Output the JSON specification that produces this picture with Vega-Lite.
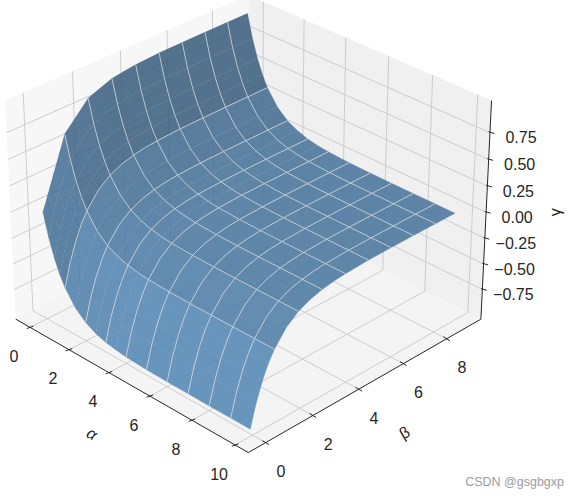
{"$schema":"https://vega.github.io/schema/vega-lite/v6.json","width":579,"height":498,"padding":0,"autosize":"none","background":"white","config":{"view":{"stroke":null},"text":{"font":"Liberation Sans"}},
"datasets":{
"panes":[
{"pane":"left","seq":0,"alpha":-0.75,"beta":-0.72,"gamma":-1.045},{"pane":"left","seq":1,"alpha":-0.75,"beta":9.62,"gamma":-1.045},{"pane":"left","seq":2,"alpha":-0.75,"beta":9.62,"gamma":1.045},{"pane":"left","seq":3,"alpha":-0.75,"beta":-0.72,"gamma":1.045},
{"pane":"right","seq":0,"alpha":-0.75,"beta":9.62,"gamma":-1.045},{"pane":"right","seq":1,"alpha":10.6,"beta":9.62,"gamma":-1.045},{"pane":"right","seq":2,"alpha":10.6,"beta":9.62,"gamma":1.045},{"pane":"right","seq":3,"alpha":-0.75,"beta":9.62,"gamma":1.045},
{"pane":"floor","seq":0,"alpha":-0.75,"beta":-0.72,"gamma":-1.045},{"pane":"floor","seq":1,"alpha":10.6,"beta":-0.72,"gamma":-1.045},{"pane":"floor","seq":2,"alpha":10.6,"beta":9.62,"gamma":-1.045},{"pane":"floor","seq":3,"alpha":-0.75,"beta":9.62,"gamma":-1.045}],
"spines":[{"seq":0,"alpha":-0.75,"beta":-0.72,"gamma":-1.045},{"seq":1,"alpha":10.6,"beta":-0.72,"gamma":-1.045},{"seq":2,"alpha":10.6,"beta":9.62,"gamma":-1.045},{"seq":3,"alpha":10.6,"beta":9.62,"gamma":1.045}],
"ticks":[
{"axis":"alpha","value":0,"label":"0"},{"axis":"alpha","value":2,"label":"2"},{"axis":"alpha","value":4,"label":"4"},{"axis":"alpha","value":6,"label":"6"},{"axis":"alpha","value":8,"label":"8"},{"axis":"alpha","value":10,"label":"10"},
{"axis":"beta","value":0,"label":"0"},{"axis":"beta","value":2,"label":"2"},{"axis":"beta","value":4,"label":"4"},{"axis":"beta","value":6,"label":"6"},{"axis":"beta","value":8,"label":"8"},
{"axis":"gamma","value":-0.75,"label":"−0.75"},{"axis":"gamma","value":-0.5,"label":"−0.50"},{"axis":"gamma","value":-0.25,"label":"−0.25"},{"axis":"gamma","value":0,"label":"0.00"},{"axis":"gamma","value":0.25,"label":"0.25"},{"axis":"gamma","value":0.5,"label":"0.50"},{"axis":"gamma","value":0.75,"label":"0.75"}],
"titles":[{"axis":"beta","value":4,"label":"β"},{"axis":"gamma","value":0,"label":"γ"}],
"nodes":[
{"alpha":0,"beta":8.9,"gamma":0.9999},{"alpha":0,"beta":8,"gamma":0.9997},{"alpha":0,"beta":7,"gamma":0.9991},{"alpha":0,"beta":6,"gamma":0.9975},{"alpha":0,"beta":5,"gamma":0.9933},{"alpha":0,"beta":4,"gamma":0.9817},{"alpha":0,"beta":3.5,"gamma":0.966},{"alpha":0,"beta":3,"gamma":0.9502},{"alpha":0,"beta":2.5,"gamma":0.9075},{"alpha":0,"beta":2,"gamma":0.8647},{"alpha":0,"beta":1.5,"gamma":0.7484},{"alpha":0,"beta":1,"gamma":0.6321},{"alpha":0,"beta":0.75,"gamma":0.474},{"alpha":0,"beta":0.5,"gamma":0.316},{"alpha":0,"beta":0.25,"gamma":0.158},{"alpha":0,"beta":0,"gamma":0},
{"alpha":0.25,"beta":8.9,"gamma":0.7787},{"alpha":0.25,"beta":8,"gamma":0.7785},{"alpha":0.25,"beta":7,"gamma":0.7779},{"alpha":0.25,"beta":6,"gamma":0.7763},{"alpha":0.25,"beta":5,"gamma":0.7721},{"alpha":0.25,"beta":4,"gamma":0.7605},{"alpha":0.25,"beta":3.5,"gamma":0.7486},{"alpha":0.25,"beta":3,"gamma":0.729},{"alpha":0.25,"beta":2.5,"gamma":0.6967},{"alpha":0.25,"beta":2,"gamma":0.6435},{"alpha":0.25,"beta":1.5,"gamma":0.5557},{"alpha":0.25,"beta":1,"gamma":0.4109},{"alpha":0.25,"beta":0.75,"gamma":0.3064},{"alpha":0.25,"beta":0.5,"gamma":0.1723},{"alpha":0.25,"beta":0.25,"gamma":0},{"alpha":0.25,"beta":0,"gamma":-0.2212},
{"alpha":0.5,"beta":8.9,"gamma":0.6064},{"alpha":0.5,"beta":8,"gamma":0.6062},{"alpha":0.5,"beta":7,"gamma":0.6056},{"alpha":0.5,"beta":6,"gamma":0.604},{"alpha":0.5,"beta":5,"gamma":0.5998},{"alpha":0.5,"beta":4,"gamma":0.5882},{"alpha":0.5,"beta":3.5,"gamma":0.5763},{"alpha":0.5,"beta":3,"gamma":0.5567},{"alpha":0.5,"beta":2.5,"gamma":0.5244},{"alpha":0.5,"beta":2,"gamma":0.4712},{"alpha":0.5,"beta":1.5,"gamma":0.3834},{"alpha":0.5,"beta":1,"gamma":0.2386},{"alpha":0.5,"beta":0.75,"gamma":0.1341},{"alpha":0.5,"beta":0.5,"gamma":0},{"alpha":0.5,"beta":0.25,"gamma":-0.1723},{"alpha":0.5,"beta":0,"gamma":-0.3935},
{"alpha":0.75,"beta":8.9,"gamma":0.4723},{"alpha":0.75,"beta":8,"gamma":0.4721},{"alpha":0.75,"beta":7,"gamma":0.4715},{"alpha":0.75,"beta":6,"gamma":0.4699},{"alpha":0.75,"beta":5,"gamma":0.4657},{"alpha":0.75,"beta":4,"gamma":0.4541},{"alpha":0.75,"beta":3.5,"gamma":0.4422},{"alpha":0.75,"beta":3,"gamma":0.4226},{"alpha":0.75,"beta":2.5,"gamma":0.3903},{"alpha":0.75,"beta":2,"gamma":0.3371},{"alpha":0.75,"beta":1.5,"gamma":0.2493},{"alpha":0.75,"beta":1,"gamma":0.1045},{"alpha":0.75,"beta":0.75,"gamma":0},{"alpha":0.75,"beta":0.5,"gamma":-0.1341},{"alpha":0.75,"beta":0.25,"gamma":-0.3064},{"alpha":0.75,"beta":0,"gamma":-0.5276},
{"alpha":1,"beta":8.9,"gamma":0.3678},{"alpha":1,"beta":8,"gamma":0.3676},{"alpha":1,"beta":7,"gamma":0.367},{"alpha":1,"beta":6,"gamma":0.3654},{"alpha":1,"beta":5,"gamma":0.3612},{"alpha":1,"beta":4,"gamma":0.3496},{"alpha":1,"beta":3.5,"gamma":0.3377},{"alpha":1,"beta":3,"gamma":0.3181},{"alpha":1,"beta":2.5,"gamma":0.2858},{"alpha":1,"beta":2,"gamma":0.2326},{"alpha":1,"beta":1.5,"gamma":0.1448},{"alpha":1,"beta":1,"gamma":0},{"alpha":1,"beta":0.75,"gamma":-0.1045},{"alpha":1,"beta":0.5,"gamma":-0.2386},{"alpha":1,"beta":0.25,"gamma":-0.4109},{"alpha":1,"beta":0,"gamma":-0.6321},
{"alpha":1.5,"beta":8.9,"gamma":0.223},{"alpha":1.5,"beta":8,"gamma":0.2228},{"alpha":1.5,"beta":7,"gamma":0.2222},{"alpha":1.5,"beta":6,"gamma":0.2206},{"alpha":1.5,"beta":5,"gamma":0.2164},{"alpha":1.5,"beta":4,"gamma":0.2048},{"alpha":1.5,"beta":3.5,"gamma":0.1929},{"alpha":1.5,"beta":3,"gamma":0.1733},{"alpha":1.5,"beta":2.5,"gamma":0.141},{"alpha":1.5,"beta":2,"gamma":0.0878},{"alpha":1.5,"beta":1.5,"gamma":0},{"alpha":1.5,"beta":1,"gamma":-0.1448},{"alpha":1.5,"beta":0.75,"gamma":-0.2493},{"alpha":1.5,"beta":0.5,"gamma":-0.3834},{"alpha":1.5,"beta":0.25,"gamma":-0.5557},{"alpha":1.5,"beta":0,"gamma":-0.7769},
{"alpha":2,"beta":8.9,"gamma":0.1352},{"alpha":2,"beta":8,"gamma":0.135},{"alpha":2,"beta":7,"gamma":0.1344},{"alpha":2,"beta":6,"gamma":0.1328},{"alpha":2,"beta":5,"gamma":0.1286},{"alpha":2,"beta":4,"gamma":0.117},{"alpha":2,"beta":3.5,"gamma":0.1051},{"alpha":2,"beta":3,"gamma":0.0855},{"alpha":2,"beta":2.5,"gamma":0.0532},{"alpha":2,"beta":2,"gamma":0},{"alpha":2,"beta":1.5,"gamma":-0.0878},{"alpha":2,"beta":1,"gamma":-0.2326},{"alpha":2,"beta":0.75,"gamma":-0.3371},{"alpha":2,"beta":0.5,"gamma":-0.4712},{"alpha":2,"beta":0.25,"gamma":-0.6435},{"alpha":2,"beta":0,"gamma":-0.8647},
{"alpha":2.5,"beta":8.9,"gamma":0.082},{"alpha":2.5,"beta":8,"gamma":0.0818},{"alpha":2.5,"beta":7,"gamma":0.0812},{"alpha":2.5,"beta":6,"gamma":0.0796},{"alpha":2.5,"beta":5,"gamma":0.0754},{"alpha":2.5,"beta":4,"gamma":0.0638},{"alpha":2.5,"beta":3.5,"gamma":0.0519},{"alpha":2.5,"beta":3,"gamma":0.0323},{"alpha":2.5,"beta":2.5,"gamma":0},{"alpha":2.5,"beta":2,"gamma":-0.0532},{"alpha":2.5,"beta":1.5,"gamma":-0.141},{"alpha":2.5,"beta":1,"gamma":-0.2858},{"alpha":2.5,"beta":0.75,"gamma":-0.3903},{"alpha":2.5,"beta":0.5,"gamma":-0.5244},{"alpha":2.5,"beta":0.25,"gamma":-0.6967},{"alpha":2.5,"beta":0,"gamma":-0.9179},
{"alpha":3,"beta":8.9,"gamma":0.0497},{"alpha":3,"beta":8,"gamma":0.0495},{"alpha":3,"beta":7,"gamma":0.0489},{"alpha":3,"beta":6,"gamma":0.0473},{"alpha":3,"beta":5,"gamma":0.0431},{"alpha":3,"beta":4,"gamma":0.0315},{"alpha":3,"beta":3.5,"gamma":0.0196},{"alpha":3,"beta":3,"gamma":0},{"alpha":3,"beta":2.5,"gamma":-0.0323},{"alpha":3,"beta":2,"gamma":-0.0855},{"alpha":3,"beta":1.5,"gamma":-0.1733},{"alpha":3,"beta":1,"gamma":-0.3181},{"alpha":3,"beta":0.75,"gamma":-0.4226},{"alpha":3,"beta":0.5,"gamma":-0.5567},{"alpha":3,"beta":0.25,"gamma":-0.729},{"alpha":3,"beta":0,"gamma":-0.9502},
{"alpha":3.5,"beta":8.9,"gamma":0.0301},{"alpha":3.5,"beta":8,"gamma":0.0299},{"alpha":3.5,"beta":7,"gamma":0.0293},{"alpha":3.5,"beta":6,"gamma":0.0277},{"alpha":3.5,"beta":5,"gamma":0.0235},{"alpha":3.5,"beta":4,"gamma":0.0119},{"alpha":3.5,"beta":3.5,"gamma":0},{"alpha":3.5,"beta":3,"gamma":-0.0196},{"alpha":3.5,"beta":2.5,"gamma":-0.0519},{"alpha":3.5,"beta":2,"gamma":-0.1051},{"alpha":3.5,"beta":1.5,"gamma":-0.1929},{"alpha":3.5,"beta":1,"gamma":-0.3377},{"alpha":3.5,"beta":0.75,"gamma":-0.4422},{"alpha":3.5,"beta":0.5,"gamma":-0.5763},{"alpha":3.5,"beta":0.25,"gamma":-0.7486},{"alpha":3.5,"beta":0,"gamma":-0.9698},
{"alpha":4,"beta":8.9,"gamma":0.0182},{"alpha":4,"beta":8,"gamma":0.018},{"alpha":4,"beta":7,"gamma":0.0174},{"alpha":4,"beta":6,"gamma":0.0158},{"alpha":4,"beta":5,"gamma":0.0116},{"alpha":4,"beta":4,"gamma":0},{"alpha":4,"beta":3.5,"gamma":-0.0119},{"alpha":4,"beta":3,"gamma":-0.0315},{"alpha":4,"beta":2.5,"gamma":-0.0638},{"alpha":4,"beta":2,"gamma":-0.117},{"alpha":4,"beta":1.5,"gamma":-0.2048},{"alpha":4,"beta":1,"gamma":-0.3496},{"alpha":4,"beta":0.75,"gamma":-0.4541},{"alpha":4,"beta":0.5,"gamma":-0.5882},{"alpha":4,"beta":0.25,"gamma":-0.7605},{"alpha":4,"beta":0,"gamma":-0.9817},
{"alpha":5,"beta":8.9,"gamma":0.0066},{"alpha":5,"beta":8,"gamma":0.0064},{"alpha":5,"beta":7,"gamma":0.0058},{"alpha":5,"beta":6,"gamma":0.0042},{"alpha":5,"beta":5,"gamma":0},{"alpha":5,"beta":4,"gamma":-0.0116},{"alpha":5,"beta":3.5,"gamma":-0.0235},{"alpha":5,"beta":3,"gamma":-0.0431},{"alpha":5,"beta":2.5,"gamma":-0.0754},{"alpha":5,"beta":2,"gamma":-0.1286},{"alpha":5,"beta":1.5,"gamma":-0.2164},{"alpha":5,"beta":1,"gamma":-0.3612},{"alpha":5,"beta":0.75,"gamma":-0.4657},{"alpha":5,"beta":0.5,"gamma":-0.5998},{"alpha":5,"beta":0.25,"gamma":-0.7721},{"alpha":5,"beta":0,"gamma":-0.9933},
{"alpha":6,"beta":8.9,"gamma":0.0024},{"alpha":6,"beta":8,"gamma":0.0022},{"alpha":6,"beta":7,"gamma":0.0016},{"alpha":6,"beta":6,"gamma":0},{"alpha":6,"beta":5,"gamma":-0.0042},{"alpha":6,"beta":4,"gamma":-0.0158},{"alpha":6,"beta":3.5,"gamma":-0.0277},{"alpha":6,"beta":3,"gamma":-0.0473},{"alpha":6,"beta":2.5,"gamma":-0.0796},{"alpha":6,"beta":2,"gamma":-0.1328},{"alpha":6,"beta":1.5,"gamma":-0.2206},{"alpha":6,"beta":1,"gamma":-0.3654},{"alpha":6,"beta":0.75,"gamma":-0.4699},{"alpha":6,"beta":0.5,"gamma":-0.604},{"alpha":6,"beta":0.25,"gamma":-0.7763},{"alpha":6,"beta":0,"gamma":-0.9975},
{"alpha":7,"beta":8.9,"gamma":0.0008},{"alpha":7,"beta":8,"gamma":0.0006},{"alpha":7,"beta":7,"gamma":0},{"alpha":7,"beta":6,"gamma":-0.0016},{"alpha":7,"beta":5,"gamma":-0.0058},{"alpha":7,"beta":4,"gamma":-0.0174},{"alpha":7,"beta":3.5,"gamma":-0.0293},{"alpha":7,"beta":3,"gamma":-0.0489},{"alpha":7,"beta":2.5,"gamma":-0.0812},{"alpha":7,"beta":2,"gamma":-0.1344},{"alpha":7,"beta":1.5,"gamma":-0.2222},{"alpha":7,"beta":1,"gamma":-0.367},{"alpha":7,"beta":0.75,"gamma":-0.4715},{"alpha":7,"beta":0.5,"gamma":-0.6056},{"alpha":7,"beta":0.25,"gamma":-0.7779},{"alpha":7,"beta":0,"gamma":-0.9991},
{"alpha":8,"beta":8.9,"gamma":0.0002},{"alpha":8,"beta":8,"gamma":0},{"alpha":8,"beta":7,"gamma":-0.0006},{"alpha":8,"beta":6,"gamma":-0.0022},{"alpha":8,"beta":5,"gamma":-0.0064},{"alpha":8,"beta":4,"gamma":-0.018},{"alpha":8,"beta":3.5,"gamma":-0.0299},{"alpha":8,"beta":3,"gamma":-0.0495},{"alpha":8,"beta":2.5,"gamma":-0.0818},{"alpha":8,"beta":2,"gamma":-0.135},{"alpha":8,"beta":1.5,"gamma":-0.2228},{"alpha":8,"beta":1,"gamma":-0.3676},{"alpha":8,"beta":0.75,"gamma":-0.4721},{"alpha":8,"beta":0.5,"gamma":-0.6062},{"alpha":8,"beta":0.25,"gamma":-0.7785},{"alpha":8,"beta":0,"gamma":-0.9997},
{"alpha":9,"beta":8.9,"gamma":0},{"alpha":9,"beta":8,"gamma":-0.0002},{"alpha":9,"beta":7,"gamma":-0.0008},{"alpha":9,"beta":6,"gamma":-0.0024},{"alpha":9,"beta":5,"gamma":-0.0066},{"alpha":9,"beta":4,"gamma":-0.0182},{"alpha":9,"beta":3.5,"gamma":-0.0301},{"alpha":9,"beta":3,"gamma":-0.0497},{"alpha":9,"beta":2.5,"gamma":-0.082},{"alpha":9,"beta":2,"gamma":-0.1352},{"alpha":9,"beta":1.5,"gamma":-0.223},{"alpha":9,"beta":1,"gamma":-0.3678},{"alpha":9,"beta":0.75,"gamma":-0.4723},{"alpha":9,"beta":0.5,"gamma":-0.6064},{"alpha":9,"beta":0.25,"gamma":-0.7787},{"alpha":9,"beta":0,"gamma":-0.9999},
{"alpha":9.9,"beta":8.9,"gamma":0},{"alpha":9.9,"beta":8,"gamma":-0.0002},{"alpha":9.9,"beta":7,"gamma":-0.0008},{"alpha":9.9,"beta":6,"gamma":-0.0024},{"alpha":9.9,"beta":5,"gamma":-0.0066},{"alpha":9.9,"beta":4,"gamma":-0.0182},{"alpha":9.9,"beta":3.5,"gamma":-0.0301},{"alpha":9.9,"beta":3,"gamma":-0.0497},{"alpha":9.9,"beta":2.5,"gamma":-0.082},{"alpha":9.9,"beta":2,"gamma":-0.1352},{"alpha":9.9,"beta":1.5,"gamma":-0.223},{"alpha":9.9,"beta":1,"gamma":-0.3678},{"alpha":9.9,"beta":0.75,"gamma":-0.4723},{"alpha":9.9,"beta":0.5,"gamma":-0.6064},{"alpha":9.9,"beta":0.25,"gamma":-0.7787},{"alpha":9.9,"beta":0,"gamma":-0.9999}]
},
"encoding":{"x":{"field":"sx","type":"quantitative","scale":{"domain":[0,579]},"axis":null},"y":{"field":"sy","type":"quantitative","scale":{"domain":[498,0]},"axis":null}},
"layer":[
{"data":{"name":"panes"},"transform":[{"calculate":"(datum.alpha+0.75)/11.35","as":"a"},{"calculate":"(datum.beta+0.72)/10.34","as":"b"},{"calculate":"datum.gamma*0.4272","as":"z"},{"calculate":"10-0.729*(datum.a-datum.b)-0.5*datum.z","as":"d"},{"calculate":"248.3+2378*(datum.a+datum.b-1)/datum.d","as":"sx"},{"calculate":"212.3+2825*(0.4209*(datum.a-datum.b)-0.866*datum.z)/datum.d","as":"sy"}],
"mark":{"type":"line","stroke":"transparent","clip":false},
"encoding":{"detail":{"field":"pane"},"order":{"field":"seq","type":"quantitative"},"fill":{"field":"pane","type":"nominal","scale":{"domain":["left","right","floor"],"range":["#f7f7f7","#f0f0f0","#f4f4f4"]},"legend":null}}},
{"data":{"name":"ticks"},"transform":[{"calculate":"[0,1,2]","as":"seq"},{"flatten":["seq"]},
{"calculate":"datum.axis=='alpha'?datum.value:(datum.seq<2?-0.75:10.6)","as":"alpha"},
{"calculate":"datum.axis=='beta'?datum.value:(datum.seq==0?-0.72:9.62)","as":"beta"},
{"calculate":"datum.axis=='gamma'?datum.value:(datum.axis=='alpha'?(datum.seq<2?-1.045:1.045):(datum.seq==0?1.045:-1.045))","as":"gamma"},
{"calculate":"datum.axis+datum.value","as":"gridline"},
{"calculate":"(datum.alpha+0.75)/11.35","as":"a"},{"calculate":"(datum.beta+0.72)/10.34","as":"b"},{"calculate":"datum.gamma*0.4272","as":"z"},{"calculate":"10-0.729*(datum.a-datum.b)-0.5*datum.z","as":"d"},{"calculate":"248.3+2378*(datum.a+datum.b-1)/datum.d","as":"sx"},{"calculate":"212.3+2825*(0.4209*(datum.a-datum.b)-0.866*datum.z)/datum.d","as":"sy"}],
"mark":{"type":"line","stroke":"#cdcdcd","strokeWidth":1,"clip":false},
"encoding":{"detail":{"field":"gridline"},"order":{"field":"seq","type":"quantitative"}}},
{"data":{"name":"nodes"},"transform":[{"calculate":"[0,1,2,3]","as":"corner"},{"flatten":["corner"]},
{"calculate":"indexof([0,0.25,0.5,0.75,1,1.5,2,2.5,3,3.5,4,5,6,7,8,9,9.9],datum.alpha)-((datum.corner==1||datum.corner==2)?1:0)","as":"qi"},
{"calculate":"indexof([0,0.25,0.5,0.75,1,1.5,2,2.5,3,3.5,4,5,6,7,8,8.9],datum.beta)-(datum.corner>=2?1:0)","as":"qj"},
{"filter":"datum.qi>=0&&datum.qi<16&&datum.qj>=0&&datum.qj<15"},
{"calculate":"datum.qi*100+datum.qj","as":"quad"},
{"joinaggregate":[{"op":"min","field":"alpha","as":"a0"},{"op":"min","field":"beta","as":"b0"}],"groupby":["quad"]},
{"calculate":"min(floor(datum.a0),9)","as":"ci"},{"calculate":"min(floor(datum.b0),8)","as":"cj"},
{"calculate":"(datum.alpha==datum.ci||datum.alpha==datum.ci+1||datum.alpha==9.9)&&(datum.beta==datum.cj||datum.beta==datum.cj+1||datum.beta==8.9)","as":"isC"},
{"calculate":"datum.isC?datum.gamma*(datum.alpha>datum.ci?1:-1):0","as":"ga"},
{"calculate":"datum.isC?datum.gamma*(datum.beta>datum.cj?1:-1):0","as":"gb"},
{"joinaggregate":[{"op":"sum","field":"ga","as":"sa"},{"op":"sum","field":"gb","as":"sb"}],"groupby":["ci","cj"]},
{"calculate":"datum.sa/2","as":"p"},{"calculate":"datum.sb/2","as":"q"},
{"calculate":"(0.667*(datum.p+datum.q)+0.333)/sqrt(1+datum.p*datum.p+datum.q*datum.q)","as":"shade"},
{"calculate":"(datum.alpha+0.75)/11.35","as":"a"},{"calculate":"(datum.beta+0.72)/10.34","as":"b"},{"calculate":"datum.gamma*0.4272","as":"z"},{"calculate":"10-0.729*(datum.a-datum.b)-0.5*datum.z","as":"d"},{"calculate":"248.3+2378*(datum.a+datum.b-1)/datum.d","as":"sx"},{"calculate":"212.3+2825*(0.4209*(datum.a-datum.b)-0.866*datum.z)/datum.d","as":"sy"}],
"mark":{"type":"line","strokeWidth":0.35,"opacity":0.87,"clip":false},
"encoding":{"detail":{"field":"quad"},"order":{"field":"corner","type":"quantitative"},"fill":{"field":"shade","type":"quantitative","scale":{"domain":[-1,1],"range":["rgb(29,47,63)","rgb(98,157,209)"]},"legend":null},"stroke":{"field":"shade","type":"quantitative","scale":{"domain":[-1,1],"range":["rgb(29,47,63)","rgb(98,157,209)"]},"legend":null}}},
{"data":{"name":"nodes"},"transform":[{"filter":"datum.alpha>0&&datum.alpha<9.5&&datum.alpha==floor(datum.alpha)"},{"calculate":"(datum.alpha+0.75)/11.35","as":"a"},{"calculate":"(datum.beta+0.72)/10.34","as":"b"},{"calculate":"datum.gamma*0.4272","as":"z"},{"calculate":"10-0.729*(datum.a-datum.b)-0.5*datum.z","as":"d"},{"calculate":"248.3+2378*(datum.a+datum.b-1)/datum.d","as":"sx"},{"calculate":"212.3+2825*(0.4209*(datum.a-datum.b)-0.866*datum.z)/datum.d","as":"sy"}],
"mark":{"type":"line","stroke":"#d5d9dc","strokeWidth":0.8,"clip":false},
"encoding":{"detail":{"field":"alpha"},"order":{"field":"beta","type":"quantitative"}}},
{"data":{"name":"nodes"},"transform":[{"filter":"datum.beta>0&&datum.beta<8.5&&datum.beta==floor(datum.beta)"},{"calculate":"(datum.alpha+0.75)/11.35","as":"a"},{"calculate":"(datum.beta+0.72)/10.34","as":"b"},{"calculate":"datum.gamma*0.4272","as":"z"},{"calculate":"10-0.729*(datum.a-datum.b)-0.5*datum.z","as":"d"},{"calculate":"248.3+2378*(datum.a+datum.b-1)/datum.d","as":"sx"},{"calculate":"212.3+2825*(0.4209*(datum.a-datum.b)-0.866*datum.z)/datum.d","as":"sy"}],
"mark":{"type":"line","stroke":"#d5d9dc","strokeWidth":0.8,"clip":false},
"encoding":{"detail":{"field":"beta"},"order":{"field":"alpha","type":"quantitative"}}},
{"data":{"name":"spines"},"transform":[{"calculate":"(datum.alpha+0.75)/11.35","as":"a"},{"calculate":"(datum.beta+0.72)/10.34","as":"b"},{"calculate":"datum.gamma*0.4272","as":"z"},{"calculate":"10-0.729*(datum.a-datum.b)-0.5*datum.z","as":"d"},{"calculate":"248.3+2378*(datum.a+datum.b-1)/datum.d","as":"sx"},{"calculate":"212.3+2825*(0.4209*(datum.a-datum.b)-0.866*datum.z)/datum.d","as":"sy"}],
"mark":{"type":"line","stroke":"#262626","strokeWidth":1,"clip":false},
"encoding":{"order":{"field":"seq","type":"quantitative"}}},
{"data":{"name":"ticks"},"transform":[
{"calculate":"datum.axis=='alpha'?datum.value:10.6","as":"alpha"},{"calculate":"datum.axis=='beta'?datum.value:(datum.axis=='alpha'?-0.72:9.62)","as":"beta"},{"calculate":"datum.axis=='gamma'?datum.value:-1.045","as":"gamma"},
{"calculate":"(datum.alpha+0.75)/11.35","as":"a"},{"calculate":"(datum.beta+0.72)/10.34","as":"b"},{"calculate":"datum.gamma*0.4272","as":"z"},{"calculate":"10-0.729*(datum.a-datum.b)-0.5*datum.z","as":"d"},{"calculate":"248.3+2378*(datum.a+datum.b-1)/datum.d","as":"sx"},{"calculate":"212.3+2825*(0.4209*(datum.a-datum.b)-0.866*datum.z)/datum.d","as":"sy"},
{"calculate":"datum.sx+(datum.axis=='gamma'?-1.3:-3.3)","as":"tx1"},{"calculate":"datum.sx+(datum.axis=='gamma'?4.5:3.3)","as":"tx2"},
{"calculate":"datum.sy+(datum.axis=='alpha'?1.2:(datum.axis=='beta'?-2:-0.8))","as":"ty1"},{"calculate":"datum.sy+(datum.axis=='alpha'?-1.2:(datum.axis=='beta'?2:0.9))","as":"ty2"}],
"mark":{"type":"rule","stroke":"#262626","strokeWidth":1,"clip":false},
"encoding":{"x":{"field":"tx1","type":"quantitative"},"x2":{"field":"tx2"},"y":{"field":"ty1","type":"quantitative"},"y2":{"field":"ty2"}}},
{"data":{"name":"ticks"},"transform":[
{"calculate":"datum.axis=='alpha'?datum.value:10.6","as":"alpha"},{"calculate":"datum.axis=='beta'?datum.value:(datum.axis=='alpha'?-0.72:9.62)","as":"beta"},{"calculate":"datum.axis=='gamma'?datum.value:-1.045","as":"gamma"},
{"calculate":"(datum.alpha+0.75)/11.35","as":"a"},{"calculate":"(datum.beta+0.72)/10.34","as":"b"},{"calculate":"datum.gamma*0.4272","as":"z"},{"calculate":"10-0.729*(datum.a-datum.b)-0.5*datum.z","as":"d"},{"calculate":"248.3+2378*(datum.a+datum.b-1)/datum.d","as":"sx"},{"calculate":"212.3+2825*(0.4209*(datum.a-datum.b)-0.866*datum.z)/datum.d","as":"sy"},
{"calculate":"datum.sx+(datum.axis=='alpha'?-16:(datum.axis=='beta'?15.2:31))","as":"lx"},{"calculate":"datum.sy+(datum.axis=='gamma'?5.6:29.5)","as":"ly"}],
"mark":{"type":"text","font":"Liberation Sans","fontSize":16,"fill":"#262626","align":"center","baseline":"middle","clip":false},
"encoding":{"x":{"field":"lx","type":"quantitative"},"y":{"field":"ly","type":"quantitative"},"text":{"field":"label"}}},
{"data":{"name":"titles"},"transform":[
{"calculate":"datum.axis=='alpha'?datum.value:10.6","as":"alpha"},{"calculate":"datum.axis=='beta'?datum.value:(datum.axis=='alpha'?-0.72:9.62)","as":"beta"},{"calculate":"datum.axis=='gamma'?datum.value:-1.045","as":"gamma"},
{"calculate":"(datum.alpha+0.75)/11.35","as":"a"},{"calculate":"(datum.beta+0.72)/10.34","as":"b"},{"calculate":"datum.gamma*0.4272","as":"z"},{"calculate":"10-0.729*(datum.a-datum.b)-0.5*datum.z","as":"d"},{"calculate":"248.3+2378*(datum.a+datum.b-1)/datum.d","as":"sx"},{"calculate":"212.3+2825*(0.4209*(datum.a-datum.b)-0.866*datum.z)/datum.d","as":"sy"},
{"calculate":"datum.sx+(datum.axis=='beta'?46:70)","as":"lx"},{"calculate":"datum.sy+(datum.axis=='beta'?44:0)","as":"ly"},
{"calculate":"datum.axis=='beta'?-30:-90","as":"rot"}],
"mark":{"type":"text","font":"Liberation Sans","fontSize":16,"fill":"#262626","align":"center","baseline":"middle","clip":false},
"encoding":{"x":{"field":"lx","type":"quantitative"},"y":{"field":"ly","type":"quantitative"},"text":{"field":"label"},"angle":{"field":"rot","type":"quantitative","scale":null}}},
{"data":{"values":[{"axis":"alpha","value":5,"label":"α"}]},"transform":[
{"calculate":"datum.value","as":"alpha"},{"calculate":"-0.72","as":"beta"},{"calculate":"-1.045","as":"gamma"},
{"calculate":"(datum.alpha+0.75)/11.35","as":"a"},{"calculate":"(datum.beta+0.72)/10.34","as":"b"},{"calculate":"datum.gamma*0.4272","as":"z"},{"calculate":"10-0.729*(datum.a-datum.b)-0.5*datum.z","as":"d"},{"calculate":"248.3+2378*(datum.a+datum.b-1)/datum.d","as":"sx"},{"calculate":"212.3+2825*(0.4209*(datum.a-datum.b)-0.866*datum.z)/datum.d","as":"sy"},
{"calculate":"datum.sx-37.5","as":"lx"},{"calculate":"datum.sy+50","as":"ly"}],
"mark":{"type":"text","font":"Liberation Sans","fontSize":16,"fontStyle":"italic","angle":30,"fill":"#262626","align":"center","baseline":"middle","clip":false},
"encoding":{"x":{"field":"lx","type":"quantitative"},"y":{"field":"ly","type":"quantitative"},"text":{"field":"label"}}},
{"data":{"values":[{"note":"CSDN @gsgbgxp"}]},"transform":[{"calculate":"564","as":"lx"},{"calculate":"481.7","as":"ly"}],
"mark":{"type":"text","font":"Liberation Sans","fontSize":12.5,"fill":"#9c9c9c","align":"right","baseline":"middle","clip":false},
"encoding":{"x":{"field":"lx","type":"quantitative"},"y":{"field":"ly","type":"quantitative"},"text":{"field":"note"}}}
]}
